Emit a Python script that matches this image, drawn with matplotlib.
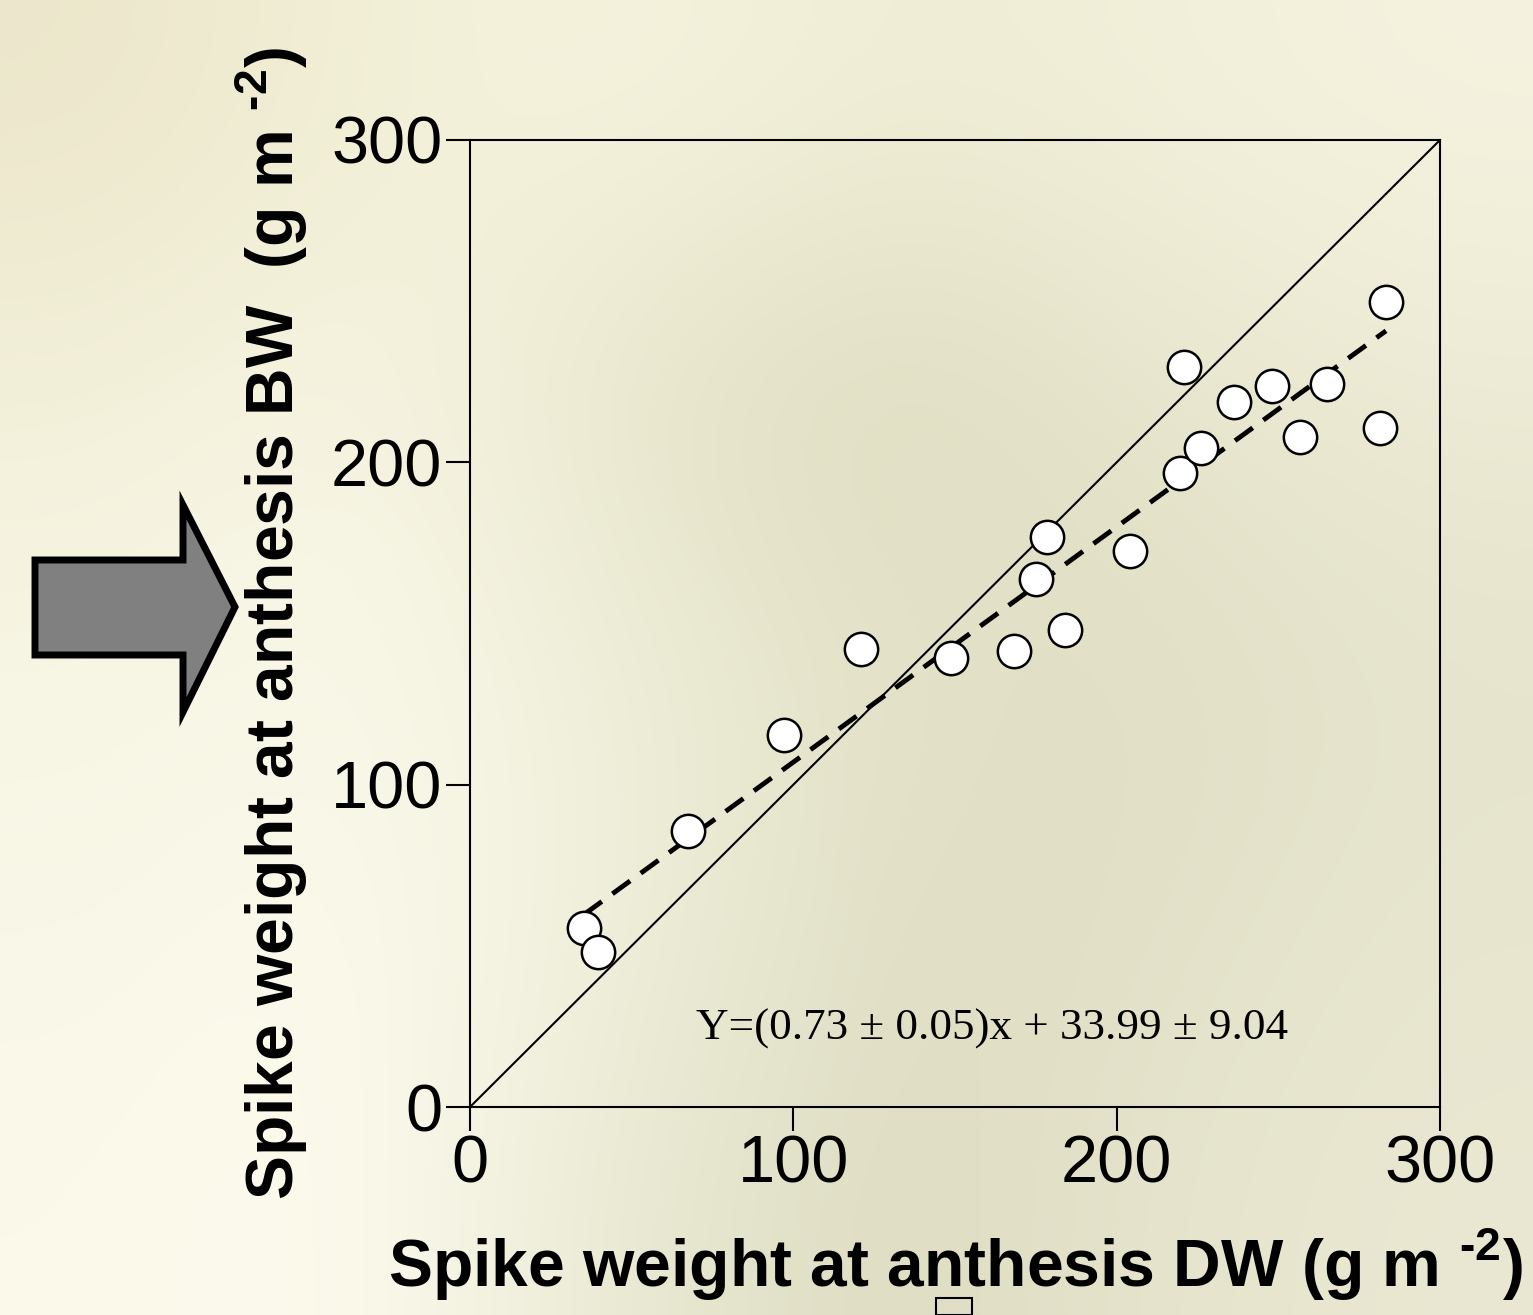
import numpy as np
import matplotlib
matplotlib.use("Agg")
from matplotlib import pyplot as plt
from matplotlib.patches import Polygon, Rectangle

# spike weight at anthesis, DW (x) vs BW (y), g m-2
dw = [35.3, 39.6, 67.4, 97.1, 120.9, 148.8, 168.3, 184.0, 175.1, 178.5,
      204.1, 219.6, 226.1, 220.8, 236.3, 248.1, 256.7, 265.1, 281.5, 283.3]
bw = [55.5, 48.1, 85.6, 115.4, 142.1, 139.3, 141.5, 148.0, 163.8, 176.9,
      172.5, 196.7, 204.5, 229.6, 218.7, 223.7, 207.9, 224.3, 210.7, 249.8]
slope = 0.73
intercept = 33.99
ticks = [0, 100, 200, 300]
eq_text = "Y=(0.73 \u00b1 0.05)x + 33.99 \u00b1 9.04"

plt.rcParams['font.family'] = ['Liberation Sans', 'DejaVu Sans']
plt.rcParams['mathtext.fontset'] = 'custom'
plt.rcParams['mathtext.rm'] = 'Liberation Sans:bold'
plt.rcParams['mathtext.bf'] = 'Liberation Sans:bold'

W, H = 1533, 1315
fig = plt.figure(figsize=(W / 100, H / 100), dpi=100)

# blurry beige backdrop
bg = np.array([
    ["#ECE7CB", "#F3F0D8", "#F6F4DF", "#EFEDD4", "#F2F0DA", "#F5F3DF"],
    ["#F3F0DA", "#F8F6E4", "#E6E4C9", "#DCDBBF", "#E7E5CD", "#EDEBD5"],
    ["#F7F5E3", "#FAF9EA", "#EEEDD7", "#E4E2C8", "#E0DFC5", "#E6E4CC"],
    ["#F9F8E8", "#FBFAEC", "#EFEEDA", "#DFDEC4", "#E2E1C8", "#E8E6CF"],
    ["#FAF9EA", "#FCFBEE", "#E8E7D0", "#DDDCC2", "#E6E4CC", "#EAE8D2"],
])
rgb = np.array([[matplotlib.colors.to_rgb(c) for c in row] for row in bg])
bax = fig.add_axes([0, 0, 1, 1], zorder=-10)
bax.imshow(rgb, aspect='auto', interpolation='bicubic', extent=[0, 1, 0, 1])
bax.set_axis_off()

ax = fig.add_axes([470 / W, 1 - 1107 / H, 970 / W, 967 / H])
ax.patch.set_alpha(0)
ax.set_xlim(0, 300)
ax.set_ylim(0, 300)

ax.plot([0, 300], [0, 300], color='black', lw=1.5, zorder=2)
xs = np.array([min(dw), max(dw)])
ax.plot(xs, slope * xs + intercept, color='black', lw=3.5,
        dashes=(4.5, 2.7), zorder=3)
ax.plot(dw, bw, 'o', ms=24, mfc='white', mec='black', mew=1.8, zorder=4,
        clip_on=False)

ax.text(70, 21, eq_text, family='Liberation Serif', fontsize=32.5)

ax.set_xticks(ticks)
ax.set_yticks(ticks)
ax.tick_params(direction='out', length=17, width=1.5, labelsize=48, pad=3)
for s in ax.spines.values():
    s.set_linewidth(1.5)

ax.set_xlabel(r'Spike weight at anthesis DW (g m $^{\text{-2}}$)',
              fontsize=47.5, fontweight='bold', labelpad=22)
ax.set_ylabel(r'Spike weight at anthesis BW  (g m $^{\text{-2}}$)',
              fontsize=47.5, fontweight='bold', labelpad=15)

# grey block arrow pointing at the y label
pts = [(35, 560), (183, 560), (183, 505), (235, 607), (183, 712),
       (183, 655), (35, 655)]
arrow = Polygon([(x / W, 1 - y / H) for x, y in pts], closed=True,
                transform=fig.transFigure, facecolor='#808080',
                edgecolor='black', lw=5, joinstyle='miter')
fig.patches.append(arrow)
fig.patches.append(Rectangle((936 / W, 0), 36 / W, 17 / H,
                             transform=fig.transFigure, fill=False,
                             edgecolor='black', lw=1.5))

fig.savefig('out.png', dpi=100)
